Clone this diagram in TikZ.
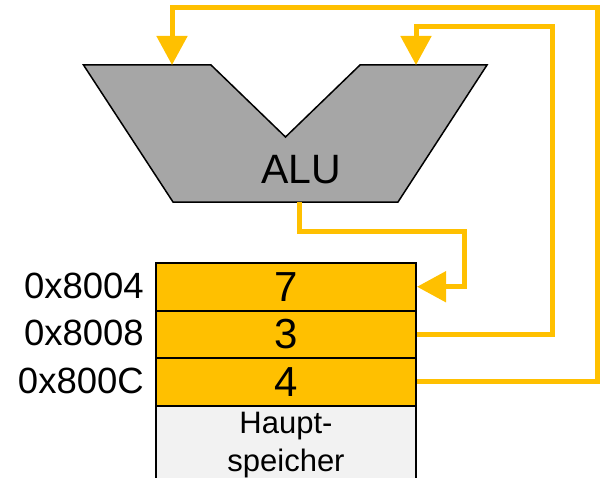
\documentclass[tikz,border=0pt]{standalone}
\usepackage{fontspec}
\setmainfont{Liberation Sans}
\usetikzlibrary{arrows.meta}
\definecolor{aorange}{HTML}{FFC000}
\definecolor{agray}{HTML}{A6A6A6}
\definecolor{memgray}{HTML}{F2F2F2}
\tikzset{
  cellbox/.style={draw=black, line width=2pt, fill=aorange, minimum width=260pt, minimum height=47.5pt, inner sep=0pt, anchor=north west, font={\fontsize{42}{48}\selectfont}},
  membox/.style={draw=black, line width=2pt, fill=memgray, minimum width=260pt, minimum height=80pt, inner sep=0pt, anchor=north west, align=center, font={\fontsize{31}{38}\selectfont}},
  addrlabel/.style={anchor=base east, inner sep=0pt, font={\fontsize{36.5}{40}\selectfont}},
  wire/.style={draw=aorange, line width=5pt},
  wirearrow/.style={wire, -{Triangle[width=30pt,length=29pt]}},
  alubody/.style={draw=black, line width=1.5pt, fill=agray}
}
\begin{document}
\begin{tikzpicture}[x=1pt,y=-1pt]
\useasboundingbox (0,0) rectangle (601,478);
\clip (0,0) rectangle (601,478);
% ALU
\path[alubody] (83.5,65) -- (211,65) -- (285.5,137) -- (360,65) -- (487,65) -- (398,202) -- (173,202) -- cycle;
\node[anchor=base, inner sep=0pt, font={\fontsize{41}{48}\selectfont}] (alulabel) at (301,183.3) {ALU};
\coordinate (aluinA) at (172,65);
\coordinate (aluinB) at (416,65);
\coordinate (aluout) at (299,202);
% memory cells
\node[cellbox] (c7) at (155,262) {7};
\node[cellbox] (c3) at (155,309.5) {3};
\node[cellbox] (c4) at (155,357) {4};
\node[membox] (mem) at (155,404.5) {Haupt-\\speicher};
% address labels
\node[addrlabel] (l1) at (144,298) {0x8004};
\node[addrlabel] (l2) at (144,345.5) {0x8008};
\node[addrlabel] (l3) at (144,393) {0x800C};
% wires
\draw[wirearrow] (aluout) |- (464.5,231) |- (c7.east);
\coordinate (w2a) at (552,27);
\draw[wirearrow] (c3.east) -| (w2a) -| (aluinB);
\coordinate (w3a) at (597.5,7.5);
\draw[wirearrow] (c4.east) -| (w3a) -| (aluinA);
\end{tikzpicture}
\end{document}
